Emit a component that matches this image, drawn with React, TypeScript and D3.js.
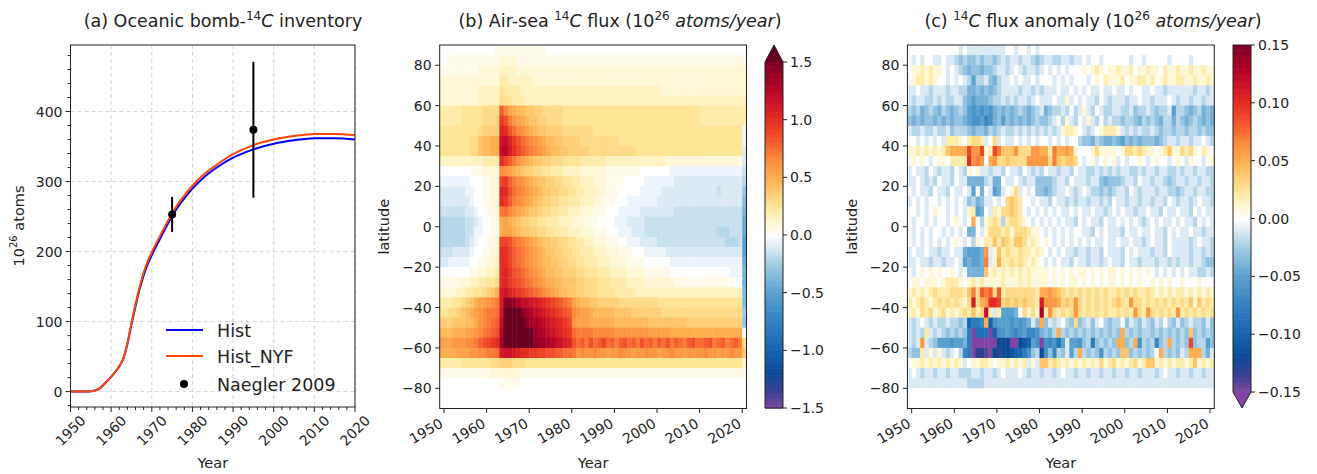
import React from "react";
import * as d3 from "d3";

const FONT = "DejaVu Sans, Verdana, sans-serif";

// ---------- Panel (a) data ----------
const invYears = [1950,1952,1954,1955,1956,1957,1958,1959,1960,1961,1962,1963,1964,1965,1966,1967,1968,1969,1970,1972,1974,1976,1978,1980,1983,1986,1990,1995,2000,2005,2010,2015,2020];
const histInv = [0,0,0,0.5,1.5,4,9,15,21,28,36,47,68,96,122,146,166,182,195,218,240,260,276,290,307,320,334,346,354,359,362,362,360];
const nyfInv = [0,0,0,0.5,1.5,4,9,15,21,28,36,47,69,98,125,149,170,186,199,222,244,264,280,294,311,324,339,352,360,365,368,368,366];
const obsYears = [1975, 1995];
const obsVals = [253, 374];
const obsErr = [25, 97];
const aYTicks = [0, 100, 200, 300, 400];
const aXTicks = [1950, 1960, 1970, 1980, 1990, 2000, 2010, 2020];

// ---------- Panels (b),(c) grid ----------
const yearEdges = [1949, 2021];
const latTicks = [-80, -60, -40, -20, 0, 20, 40, 60, 80];
const yearTicks = [1950, 1960, 1970, 1980, 1990, 2000, 2010, 2020];
// rows top (85-90N) to bottom (90-85S), one char per year 1949..2020
// flux: '0'..'Z' = 0.05 steps, 'a'.. = -0.05 steps
const fluxRows = [
"000000000 00001 1 111 1111 111000000 0000000000 0000000000 0000000000 0000000000 0",
"001111111 11111 2 222 1111 111111111 1111111111 1111111111 1111111111 1111111111 1",
"111111111 22222 3 333 2222 222222222 2222222222 2222222222 2222222222 2222222222 2",
"222222222 22222 4 433 3333 222222222 2222222222 2222222222 2222222222 2222222222 2",
"222222222 33333 5 444 4333 333333333 3333333333 3333333333 3222222222 2222222222 2",
"222222222 33333 6 554 4433 333333333 3333333333 3333333333 3333333333 3333333333 3",
"444445555 56666 G DBA 9988 776666655 5555555555 5555555555 5555555555 4444444444 4",
"444445555 56667 J HEC BA98 877666655 5555555555 5555555555 5555555555 4444444444 4",
"555555555 67777 L KHF DCBA 988777766 6666655555 5555555555 5555555555 5555555555 a",
"555555566 899AA N OLJ HFED CBA998877 7766666666 6555555555 5555555555 5555555555 a",
"555555566 899AA O PMK IGFE DCBA99887 7777666666 6666655555 5555555555 5555555555 b",
"333333333 34444 K IGE CBA9 887766655 5544444433 3333333333 3322222222 2222222222 b",
"000000011 12222 D CBA 9877 665544433 3322222211 1111110000 000aaaaaaa aaaaaaaaaa c",
"aaaaaaa00 01122 I JGE DCBA 988776655 4433322211 1100000aaa aaaabbbbbb bbbbbbbbbb d",
"bbbbbbaa0 01122 L KHF EDCB A98877665 5443332211 100000aaaa abbbbbbbbb bbbbcbbbbb f",
"bbbbbbba0 01122 K JGE DCBA 987766554 4433322111 000aaaaaaa bbbbbbbbbb bbbbbbbbbb g",
"ccccccbba 00112 E FDC BA98 876655443 3322211100 0aaaaabbbb bbbbcccccc cccccccccc h",
"ddddddccb a0011 A BA9 8776 655444333 2221110000 aaabbbbccc cccccccccc cccccccccc i",
"ddddddcca a0011 A BBA 9887 766554443 3322211100 0aaabbbccc cccccccccc ccccdddccc i",
"ddddddcba 00112 I IHF EDCB A98877665 5443322211 100aaabbbb cccccccccc ccccccdddc j",
"cccbbbba0 01122 K KIG FEDC BA9887766 5544433322 2111000aaa aabbbbbbbb bbbbbbbbbb j",
"bbaaaaa00 11223 K KIG FEDC BA9988776 6554443332 2221111000 000aaaaaaa aaaaaaaaaa i",
"000000011 22334 K LJH GFED CBA998877 7665554443 3332222111 1110000000 0000000aaa h",
"111112233 44556 K LJI HGFE DCBAA9988 8776665554 4443333222 2222111111 1111111100 h",
"222233445 5678A M NLK JIHG FEDCBA998 8776665555 4444433333 3333333333 3333333333 g",
"44455678A BBCDE M TTS QOON MLKJIHGFE BA99887777 7666666666 5555555555 5555555555 g",
"5566789AB CDEEF N WWW VTRQ ONMLKJIHG DCBBA99999 8888777777 7666666666 6666666666 e",
"77788899A CDEFG O WWW WVTR QPONMLKJI CBBBAAAAAA 9999999988 8888888777 7777777777 f",
"999AAABBC DEFGH P XXX XWWV RQPONMLKJ FEEEEDDDDD CCCCCCCCBB BBBAAAAAAA AAAAAAAAAA 0",
"BBBCCCDDE GHIJK Q XXX XXWV TSRQPONML HFGEHFGIFG EGHFGEHFGE GFHEGFEGHF FGHEFGEFGE 6",
"AAAABBBCC DDEEF M NNM LKKJ JIIHHGGFF ECDCCDCCBC CDCCBCCDCC BCCDCCBCCC CDCCBCCDCC 8",
"444445555 55566 7 776 6655 555555555 5555555555 5555555555 5555555555 5555555555 3",
"111111111 11122 2 222 2111 111111111 1111111111 1111111111 1111111111 1111111111 1",
"000000000 00000 1 111 1000 000000000 0000000000 0000000000 0000000000 0000000000 0",
"000000000 00000 0 000 0000 000000000 0000000000 0000000000 0000000000 0000000000 0",
"000000000 00000 0 000 0000 000000000 0000000000 0000000000 0000000000 0000000000 0",
];
// anomaly: '0'..'J' = 0.01 steps, 'a'.. = -0.01 steps
const anomRows = [
"00000000 0000a0aa aaaaaaa0 0a00a0a0 00000000 00000000 00000000 00000000 00000000",
"0a0a00aa 0aabcbcc bcbbcbab aabaabcb aabbaaba a0a00a00 0000a00a 00000a00 00a00000",
"01121211 0a0abcdc cdccbaab a0abaaba 0a0a0a00 01012101 12112011 21102112 11211211",
"01221210 0a0a0abe bbacdbaa 0a0aa0a0 00a0a0a0 00a01021 11201122 12012112 21121121",
"aa0aabaa abaabbdd cdcdcbaa aabaabab aaa0aa0a 0a0aa0aa 0aa0a00a a0aabaaa aaabaaba",
"abaabbab abbaacde dddcbbab abaaba0a aa0aa1a0 a0aab0ab aaabaa0a abaaa0ab aabaabaa",
"bcbdcbcd bcdcbcef efefdcdc dcbcdcba dcbbab0b a1ab0abb aabbacbb abcbbaeb bcdcbdcd",
"cdcdccdc dcdccdef fegfdcec dcdcdcbc cba0b1ab 0a1ab0ba bbcbbcdb cbcdbbdb cdcbcdcd",
"abbabbab bacbbbcd ccdbcbab babababa baba1221 0aba0122 21ababab babcbbcb bcbbcbcc",
"00a0a0a0 a2221023 32a03a0a a0a0a0a0 0a0a0a00 bccdbcdd cdecdcdc ccdcbaab aabaa0ab",
"11212121 24555596 69129744 46333665 52755651 00013111 10133232 11012411 32310210",
"01010a01 102222A6 76056334 33336666 63743443 0a01a010 1a0a0010 a0100a01 0a100a01",
"a0aab0ab aab0ab10 1aabaab0 aab0abab 0aabaab0 aabbabab abaabbab aabaabba baabaabb",
"aa0abab0 aab0aadd ddbadd0a a0abaacc ccbaab0a aabaacdc ccbaab0a abaabcba abaabaab",
"0a0aab0a ab0aa0ae 0d0aeda0 13a0a0cc dcbaa0ab a0abbcbc baab0aba aabaabbc baabaabb",
"a0a0a00a 0a0a0acb dcaa0a03 43200a0a ab0aabab aabaabab 0aabaaba abaab0ab aaba0aab",
"00a0a010 0a0a0a12 ed0a2133 4320a0a0 a0a0aa0a 0aa0aaba 0a0aabaa 0aab0aa0 aab0a0aa",
"0a00a0a0 0a010a05 0b1232b2 33210a0a 0a0a0aab 0a0aab0a a0a0a0ab a0a0aa0a 0aab0a0a",
"0a0a0a00 a0a0a0dd 0a133323 13332110 a0a0a0a0 0aab0a0a aab0aa0a a0aab0a0 aa0aabaa",
"0a0a0a0a 0a010a0b 10224243 24431210 10a0a0a0 a0a0aa0a a0aa0aab a0aab0aa aaba0aab",
"a0aa0aab aa0aadee ed6a1423 22322121 0a0a0aab aabaab0a aab0a0aa abaab0aa aabaabab",
"aa0aabaa baa0aede ed7a1522 32321210 a0a0aab0 aabaaba0 aab0aaba aabaabab aabaabcc",
"0a010101 0010a0dd dd412121 21212111 10101010 11010101 10101010 10a0a0a0 a0aabbab",
"01101110 12221012 12111121 11212111 10101011 01010101 10101010 01010100 10001000",
"12121232 22333247 38783823 33333325 56543232 32323232 23232322 32121212 21212121",
"21232123 2323213B 356AA934 3434332B 66653436 32323232 34326332 32323232 32414232",
"12132312 31212324 23C2a2ee ed03131D 26323236 32323232 23232632 63232326 23232323",
"aba0abab babbcbjh hg5jfeee fefedac5 caba0bc3 cbaca0bc bb0cabca bcab0bca cbabbcac",
"abab2aba bcbcbchp iiipjffe fgfeggfd cdb5bcbc bcbcbcbc bc5bcbcb bcbcbcbc bc4cbcbc",
"aba6abce eefeedhq qqqqqlll pplkjefq fgfieaee fcbhcbcb c55cb5fb cbgcb5bc bc9cbbec",
"bcc2a1a1 aba0bgho mmnolmll kjjhfcbl fcgbcaeb 5bcbcfbc bc44cbcb cb05bcbc ab555bda",
"01121212 12121a01 12210112 1212a1a4 42321212 12121312 31212312 44121212 21241212",
"a0abaaba abaabbba abaaba0a aa0abaab aaba0aab aabaabaa baabaaba aaba0aab aabaabaa",
"aaaaaaaa aaaaaabb bbaaaaaa aaaaaaaa aaaaaaaa aaaaaaaa aaaaaaaa aaaaaaaa aaaaaaaa",
"00000000 00000000 00000000 00000000 00000000 00000000 00000000 00000000 00000000",
"00000000 00000000 00000000 00000000 00000000 00000000 00000000 00000000 00000000",
];
const fluxTicks = [1.5, 1.0, 0.5, 0.0, -0.5, -1.0, -1.5];
const anomTicks = [0.15, 0.10, 0.05, 0.0, -0.05, -0.10, -0.15];

// ---------- colour map ----------
const CMAP_T = [0, 0.05, 0.1, 0.167, 0.25, 0.333, 0.41, 0.46, 0.5, 0.54, 0.58, 0.64, 0.667, 0.72, 0.77, 0.833, 0.89, 0.94, 1];
const CMAP_C = ["#7e4aa0","#3a3f8f","#0c4a94","#1565ae","#3282c0","#5aa0cf","#9cc8e2","#d4e6f2","#ffffff","#fff6d0","#fee79a","#fec265","#fdae50","#fb8a3c","#f45a2e","#e42d22","#c8102a","#a80026","#800026"];
const OVER = "#67001f";
const UNDER = "#8244a4";

const POS = "0123456789ABCDEFGHIJKLMNOPQRSTUVWXYZ";
const NEG = "abcdefghijklmnopqrstuvwxyz";
function decodeRows(rows: string[], step: number): number[][] {
  return rows.map((s) => {
    const t = s.replace(/ /g, "").padEnd(72, "0").slice(0, 72);
    return t.split("").map((ch) => {
      const i = POS.indexOf(ch);
      if (i >= 0) return i * step;
      return -(NEG.indexOf(ch) + 1) * step;
    });
  });
}

function makeColor(vmax: number) {
  const s = d3.scaleLinear<string>().domain(CMAP_T.map((t) => -vmax + 2 * vmax * t)).range(CMAP_C).clamp(true);
  return (v: number) => (v > vmax * 1.0001 ? OVER : v < -vmax * 1.0001 ? UNDER : s(v));
}

const fmt = (v: number, d: number) => (v < 0 ? "\u2212" : "") + Math.abs(v).toFixed(d);

function RotLabel({ x, top, text, angle, ha, fs }: any) {
  const w = text.length * 0.636 * fs;
  const h = fs * 1.0;
  const th = (angle * Math.PI) / 180;
  const bw = w * Math.cos(th) + h * Math.sin(th);
  const bh = w * Math.sin(th) + h * Math.cos(th);
  const cx = ha === "center" ? x : x - bw / 2;
  const cy = top + bh / 2;
  return (
    <text transform={`translate(${cx},${cy}) rotate(${-angle})`} textAnchor="middle" dominantBaseline="central" fontSize={fs} fill="#222">
      {text}
    </text>
  );
}

function Heat({ x0, x1, data, vmax, label }: any) {
  const y0 = 45, y1 = 408.5;
  const xs = d3.scaleLinear().domain(yearEdges).range([x0, x1]);
  const ys = d3.scaleLinear().domain([-90, 90]).range([y1, y0]);
  const color = makeColor(vmax);
  const cells: any[] = [];
  data.forEach((row: number[], r: number) => {
    const latTop = 90 - 5 * r;
    row.forEach((v: number, k: number) => {
      const xa = xs(yearEdges[0] + k), xb = xs(yearEdges[0] + k + 1);
      cells.push(
        <rect key={r + "_" + k} x={xa} y={ys(latTop)} width={xb - xa + 0.4} height={ys(latTop - 5) - ys(latTop) + 0.4} fill={color(v)} />
      );
    });
  });
  return (
    <g>
      {cells}
      <rect x={x0} y={y0} width={x1 - x0} height={y1 - y0} fill="none" stroke="#222" strokeWidth={1} />
      {latTicks.map((t) => (
        <g key={"yt" + t}>
          <line x1={x0 - 4.5} x2={x0} y1={ys(t)} y2={ys(t)} stroke="#222" />
          <text x={x0 - 8} y={ys(t)} dy="0.36em" textAnchor="end" fontSize={14} fill="#222">{fmt(t, 0)}</text>
        </g>
      ))}
      {yearTicks.map((t) => (
        <g key={"xt" + t}>
          <line x1={xs(t)} x2={xs(t)} y1={y1} y2={y1 + 4.5} stroke="#222" />
          <RotLabel x={xs(t) + 1} top={416} text={String(t)} angle={30} ha="right" fs={14} />
        </g>
      ))}
      <text x={(x0 + x1) / 2} y={468} textAnchor="middle" fontSize={14.5} fill="#222">Year</text>
      <text transform={`translate(${label},${(y0 + y1) / 2}) rotate(-90)`} textAnchor="middle" dominantBaseline="central" fontSize={14.5} fill="#222">latitude</text>
    </g>
  );
}

function Colorbar({ x0, x1, top, bottom, vmax, ticks, dec, ext }: any) {
  const cs = d3.scaleLinear().domain([-vmax, vmax]).range([bottom, top]);
  const color = makeColor(vmax);
  const n = 200;
  const slices = d3.range(n).map((i) => {
    const va = -vmax + (2 * vmax * i) / n;
    const vb = -vmax + (2 * vmax * (i + 1)) / n;
    return <rect key={i} x={x0} y={cs(vb)} width={x1 - x0} height={cs(va) - cs(vb) + 0.6} fill={color((va + vb) / 2)} />;
  });
  const xm = (x0 + x1) / 2;
  let tri: any = null;
  let outline = "";
  if (ext === "max") {
    tri = <polygon points={`${x0},${top} ${x1},${top} ${xm},${top - 17}`} fill={OVER} />;
    outline = `M${x0},${bottom} L${x0},${top} L${xm},${top - 17} L${x1},${top} L${x1},${bottom} Z`;
  } else {
    tri = <polygon points={`${x0},${bottom} ${x1},${bottom} ${xm},${bottom + 16}`} fill={UNDER} />;
    outline = `M${x0},${top} L${x1},${top} L${x1},${bottom} L${xm},${bottom + 16} L${x0},${bottom} Z`;
  }
  return (
    <g>
      {slices}
      {tri}
      <path d={outline} fill="none" stroke="#222" strokeWidth={1} />
      {ticks.map((t: number) => (
        <g key={t}>
          <line x1={x1} x2={x1 + 4} y1={cs(t)} y2={cs(t)} stroke="#222" />
          <text x={x1 + 7} y={cs(t)} dy="0.36em" fontSize={14} fill="#222">{fmt(t, dec)}</text>
        </g>
      ))}
    </g>
  );
}

export default function App() {
  const fluxData = decodeRows(fluxRows, 0.05);
  const anomData = decodeRows(anomRows, 0.01);

  // panel a
  const ax0 = 70.5, ax1 = 355, ay0 = 45, ay1 = 407;
  const xA = d3.scaleLinear().domain([1950, 2020]).range([ax0, ax1]);
  const yA = d3.scaleLinear().domain([-22, 495]).range([ay1, ay0]);
  const line = d3.line<[number, number]>().x((d) => xA(d[0])).y((d) => yA(d[1])).curve(d3.curveMonotoneX);
  const histPts = invYears.map((y, i) => [y, histInv[i]] as [number, number]);
  const nyfPts = invYears.map((y, i) => [y, nyfInv[i]] as [number, number]);
  const yMinor = d3.range(-20, 481, 20).filter((v) => v % 100 !== 0);
  const xMinor = d3.range(1950, 2021, 2).filter((v) => v % 10 !== 0);

  return (
    <svg width={1317} height={474} style={{ position: "absolute", left: 0, top: 0, background: "#fff" }} fontFamily={FONT}>
      <rect x={0} y={0} width={1317} height={474} fill="#fff" />
      {/* ---------- Panel (a) ---------- */}
      <g>
        {aXTicks.map((t) => (
          <line key={"gx" + t} x1={xA(t)} x2={xA(t)} y1={ay0} y2={ay1} stroke="#d0d0d0" strokeWidth={0.9} strokeDasharray="4,3" />
        ))}
        {aYTicks.map((t) => (
          <line key={"gy" + t} x1={ax0} x2={ax1} y1={yA(t)} y2={yA(t)} stroke="#d0d0d0" strokeWidth={0.9} strokeDasharray="4,3" />
        ))}
        <path d={line(histPts) || ""} fill="none" stroke="#0000ff" strokeWidth={2} />
        <path d={line(nyfPts) || ""} fill="none" stroke="#ff4500" strokeWidth={2} />
        {obsYears.map((y, i) => (
          <g key={"obs" + y}>
            <line x1={xA(y)} x2={xA(y)} y1={yA(obsVals[i] - obsErr[i])} y2={yA(obsVals[i] + obsErr[i])} stroke="#000" strokeWidth={2} />
            <circle cx={xA(y)} cy={yA(obsVals[i])} r={4} fill="#000" />
          </g>
        ))}
        <rect x={ax0} y={ay0} width={ax1 - ax0} height={ay1 - ay0} fill="none" stroke="#222" strokeWidth={1} />
        {aYTicks.map((t) => (
          <g key={"ayt" + t}>
            <line x1={ax0 - 5} x2={ax0} y1={yA(t)} y2={yA(t)} stroke="#222" />
            <text x={ax0 - 8} y={yA(t)} dy="0.36em" textAnchor="end" fontSize={14} fill="#222">{t}</text>
          </g>
        ))}
        {yMinor.map((t) => (
          <line key={"aym" + t} x1={ax0 - 3} x2={ax0} y1={yA(t)} y2={yA(t)} stroke="#222" />
        ))}
        {aXTicks.map((t) => (
          <g key={"axt" + t}>
            <line x1={xA(t)} x2={xA(t)} y1={ay1} y2={ay1 + 5} stroke="#222" />
            <RotLabel x={xA(t)} top={413} text={String(t)} angle={45} ha="center" fs={14} />
          </g>
        ))}
        {xMinor.map((t) => (
          <line key={"axm" + t} x1={xA(t)} x2={xA(t)} y1={ay1} y2={ay1 + 3} stroke="#222" />
        ))}
        <text x={(ax0 + ax1) / 2} y={468} textAnchor="middle" fontSize={14.5} fill="#222">Year</text>
        <text transform={`translate(19,${(ay0 + ay1) / 2}) rotate(-90)`} textAnchor="middle" dominantBaseline="central" fontSize={14.5} fill="#222">
          10<tspan dy={-6} fontSize={10}>26</tspan><tspan dy={6}> atoms</tspan>
        </text>
        {/* legend */}
        <line x1={166} x2={203} y1={330} y2={330} stroke="#0000ff" strokeWidth={2} />
        <text x={217} y={336.5} fontSize={17.5} fill="#222">Hist</text>
        <line x1={166} x2={203} y1={356} y2={356} stroke="#ff4500" strokeWidth={2} />
        <text x={217} y={362.5} fontSize={17.5} fill="#222">Hist_NYF</text>
        <circle cx={184} cy={384} r={4} fill="#000" />
        <text x={217} y={390.5} fontSize={17.5} fill="#222">Naegler 2009</text>
        <text x={223} y={27} textAnchor="middle" fontSize={17.5} fill="#222">
          (a) Oceanic bomb-<tspan dy={-7} fontSize={12}>14</tspan><tspan dy={7} fontStyle="italic">C</tspan> inventory
        </text>
      </g>

      {/* ---------- Panel (b) ---------- */}
      <Heat x0={439.7} x1={746.5} data={fluxData} vmax={1.5} label={384} />
      <Colorbar x0={765} x1={783} top={62} bottom={408} vmax={1.5} ticks={fluxTicks} dec={1} ext="max" />
      <text x={620} y={27} textAnchor="middle" fontSize={17.5} fill="#222">
        (b) Air-sea <tspan dy={-7} fontSize={12}>14</tspan><tspan dy={7} fontStyle="italic">C</tspan> flux (10<tspan dy={-7} fontSize={12}>26</tspan><tspan dy={7}> </tspan><tspan fontStyle="italic">atoms/year</tspan>)
      </text>

      {/* ---------- Panel (c) ---------- */}
      <Heat x0={907.4} x1={1214.3} data={anomData} vmax={0.15} label={852} />
      <Colorbar x0={1233} x1={1251} top={45} bottom={392} vmax={0.15} ticks={anomTicks} dec={2} ext="min" />
      <text x={1093} y={27} textAnchor="middle" fontSize={17.5} fill="#222">
        (c) <tspan dy={-7} fontSize={12}>14</tspan><tspan dy={7} fontStyle="italic">C</tspan> flux anomaly (10<tspan dy={-7} fontSize={12}>26</tspan><tspan dy={7}> </tspan><tspan fontStyle="italic">atoms/year</tspan>)
      </text>
    </svg>
  );
}
